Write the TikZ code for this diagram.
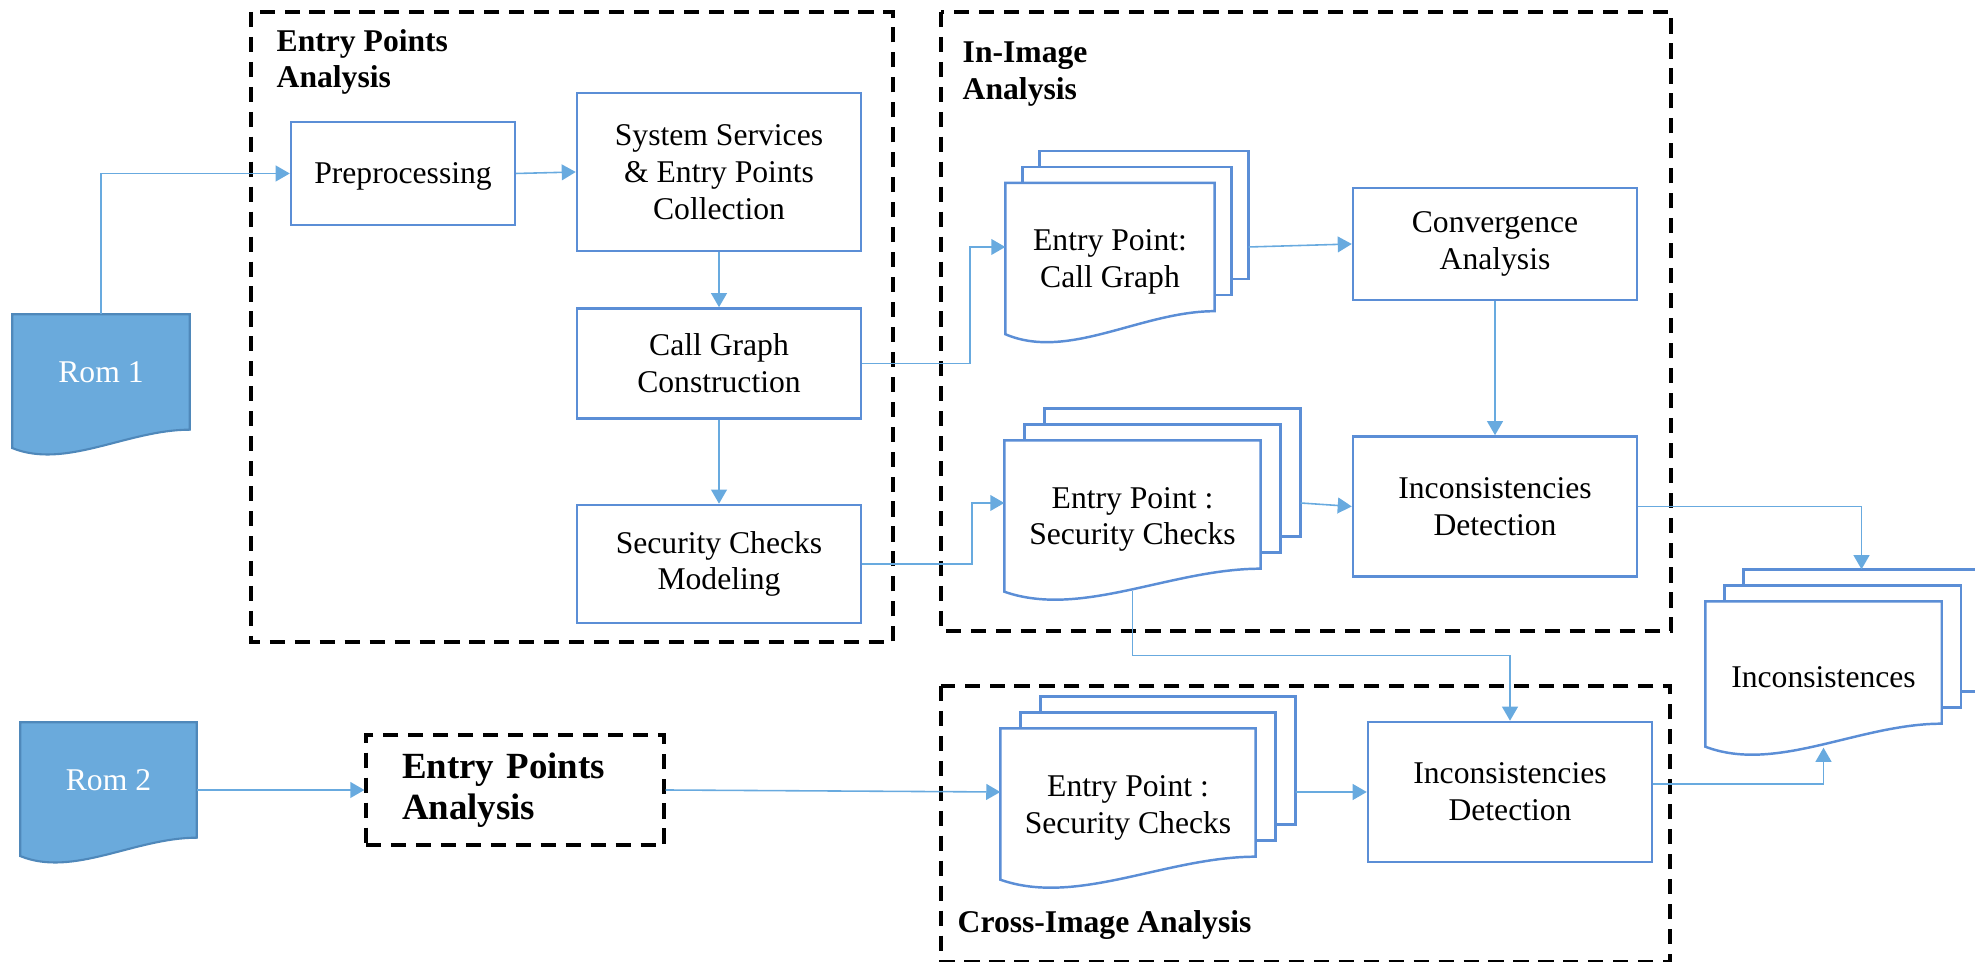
\documentclass[tikz,border=0pt]{standalone}
\usepackage{fontspec}
\setmainfont{Liberation Serif}
\usetikzlibrary{arrows.meta, positioning, calc, backgrounds}

\definecolor{boxblue}{HTML}{5B8ED6}
\definecolor{linkblue}{HTML}{68AADF}
\definecolor{romfill}{HTML}{6AAADC}
\definecolor{romedge}{HTML}{4F88BA}

\newcommand{\diagfont}{\fontsize{9}{10.5}\selectfont}

% document outline with wavy bottom: node, right corner above south, wave scale
\newcommand{\docshape}[4][]{%
  \draw[#1] (#2.north west) -- (#2.north east) -- ($(#2.south east)+(0,#3)$)
    .. controls ($(#2.south west)!0.65!(#2.south east)+(0,#3)$)
    and ($(#2.south west)!0.3!(#2.south east)+(0,#3-0.5*#4)$)
    .. ($(#2.south west)+(0,#3-0.23*#4)$) -- cycle;}

% three stacked sheets behind a document node
\newcommand{\docstack}[2][0.2]{%
  \draw[docline, fill=white] ([shift={({2*#1},0.32)}]#2.north west) rectangle ([shift={({2*#1},0.62)}]#2.south east);
  \draw[docline, fill=white] ([shift={(#1,0.16)}]#2.north west) rectangle ([shift={(#1,0.46)}]#2.south east);
  \docshape[docline, fill=white]{#2}{0.30}{1}}

\begin{document}
\begin{tikzpicture}[
    % Style definitions
    procbox/.style={rectangle, draw=boxblue, line width=0.7pt, minimum width=2.84cm,
                    align=center, font=\diagfont, inner sep=2pt},
    docnode/.style={rectangle, minimum height=1.57cm, align=center, font=\diagfont, inner sep=2pt},
    romnode/.style={rectangle, minimum width=1.76cm, minimum height=1.14cm,
                    align=center, font=\diagfont, text=white},
    docline/.style={draw=boxblue, line width=0.7pt},
    groupbox/.style={draw=black, line width=0.9pt, dash pattern=on 4.3pt off 2.8pt},
    grouptitle/.style={font=\diagfont\bfseries, align=left, anchor=west, inner sep=0pt},
    arrow/.style={-{Triangle[length=4pt, width=4.5pt]}, draw=linkblue, line width=0.45pt},
]
\useasboundingbox (0,0) rectangle (19.75,9.62);

% Group frames
\draw[groupbox] (2.51,9.50) rectangle (8.93,3.20);
\draw[groupbox] (9.41,9.50) rectangle (16.71,3.31);
\draw[groupbox] (9.41,2.76) rectangle (16.70,0);
\node[grouptitle] (epatitle) at (2.76,9.00) {Entry Points\\Analysis};
\node[grouptitle] (inimgtitle) at (9.62,8.88) {In-Image\\Analysis};
\node[grouptitle] (crosstitle) at (9.57,0.37) {Cross-Image Analysis};

% Inputs
\node[romnode] (rom1) at (1.01,5.90) {Rom 1};
\node[romnode, minimum width=1.75cm] (rom2) at (1.085,1.82) {Rom 2};

% Entry points analysis
\node[procbox, minimum width=2.24cm, minimum height=1.03cm, text depth=0pt] (prep) at (4.03,7.885) {Preprocessing};
\node[procbox, minimum height=1.58cm] (sysserv) at (7.19,7.90) {System Services\\\& Entry Points\\Collection};
\node[procbox, minimum height=1.10cm, below=0.55cm of sysserv] (cgbuild) {Call Graph\\Construction};
\node[procbox, minimum height=1.18cm, below=0.84cm of cgbuild] (secmodel) {Security Checks\\Modeling};
\node[groupbox, minimum height=1.10cm, text width=2.26cm, inner xsep=0.36cm, align=left,
      font=\fontsize{10.5}{11.5}\selectfont\bfseries] (epa2) at (5.15,1.72) {Entry Points\\Analysis};

% In-image analysis
\node[docnode, minimum width=2.08cm] (cgdoc) at (11.10,7.00) {Entry Point:\\Call Graph};
\node[docnode, minimum width=2.55cm] (secdoc) at (11.325,4.425) {Entry Point :\\Security Checks};
\node[procbox, minimum height=1.12cm] (converg) at (14.95,7.18) {Convergence\\Analysis};
\node[procbox, minimum height=1.40cm, below=1.34cm of converg] (incdet1) {Inconsistencies\\Detection};

% Cross-image analysis
\node[docnode, minimum width=2.54cm] (crossdoc) at (11.28,1.545) {Entry Point :\\Security Checks};
\node[procbox, minimum height=1.40cm] (incdet2) at (15.10,1.70) {Inconsistencies\\Detection};

% Output
\node[docnode, minimum width=2.35cm, minimum height=1.51cm] (incdoc) at (18.235,2.845) {Inconsistences};

% Document outlines
\begin{scope}[on background layer]
  \docstack[0.17]{cgdoc}
  \docstack{secdoc}
  \docstack{crossdoc}
  \docstack[0.19]{incdoc}
  \docshape[draw=romedge, fill=romfill, line width=0.6pt]{rom1}{0}{0.8}
  \docshape[draw=romedge, fill=romfill, line width=0.6pt]{rom2}{0}{0.8}
\end{scope}

% Arrows
\draw[arrow] (rom1.north) |- (prep.west);
\draw[arrow] (prep.east) -- (sysserv.west);
\draw[arrow] (sysserv.south) -- (cgbuild.north);
\draw[arrow] (cgbuild.south) -- (secmodel.north);
\draw[arrow] (cgbuild.east) -- ++(1.08,0) |- ([yshift=0.15cm]cgdoc.west);
\draw[arrow] ([shift={(0.34,0.15)}]cgdoc.east) -- (converg.west);
\draw[arrow] (converg.south) -- (incdet1.north);
\draw[arrow] (secmodel.east) -- ++(1.10,0) |- ([yshift=0.165cm]secdoc.west);
\draw[arrow] ([shift={(0.40,0.165)}]secdoc.east) -- (incdet1.west);
\draw[arrow] ([yshift=0.08cm]secdoc.south) -- ++(0,-0.65) -| (incdet2.north);
\draw[arrow] (incdet1.east) -| ([shift={(0.38,0.32)}]incdoc.north);
\draw[arrow] ([yshift=-0.10cm]rom2.east) -- (epa2.west);
\draw[arrow] (epa2.east) -- ([yshift=0.155cm]crossdoc.west);
\draw[arrow] ([shift={(0.40,0.155)}]crossdoc.east) -- (incdet2.west);
\draw[arrow] ([yshift=0.08cm]incdet2.east) -| ([yshift=0.06cm]incdoc.south);

\end{tikzpicture}
\end{document}
